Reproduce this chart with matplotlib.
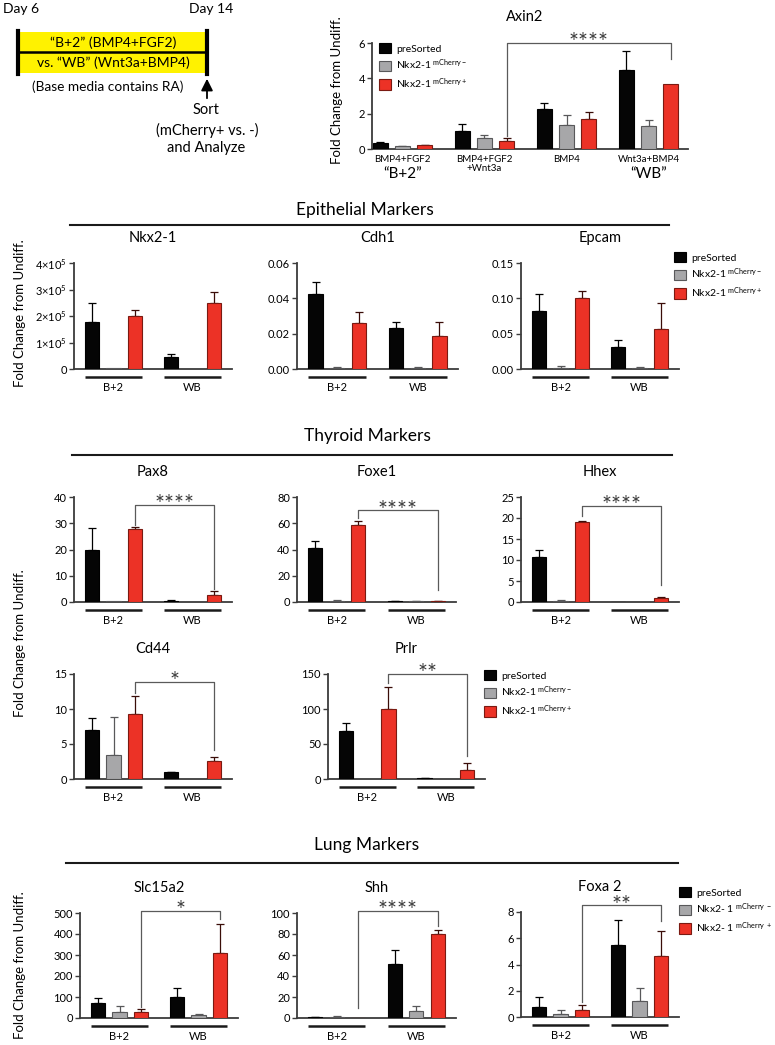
import numpy as np
import matplotlib
matplotlib.use("Agg")
import matplotlib.pyplot as plt
from matplotlib.patches import Patch, Rectangle
from matplotlib.transforms import blended_transform_factory
from matplotlib.ticker import FixedFormatter

plt.rcParams['font.family'] = ['Lato', 'DejaVu Sans']
plt.rcParams['mathtext.fontset'] = 'custom'
plt.rcParams['mathtext.rm'] = 'Lato'
plt.rcParams['mathtext.it'] = 'Lato:italic'
plt.rcParams['mathtext.bf'] = 'Lato:bold'

W, H = 775, 1045

# ---------------------------------------------------------------------------
# Data (rows: preSorted, Nkx2-1 mCherry-, Nkx2-1 mCherry+ ; cols: conditions)
# ---------------------------------------------------------------------------
axin2_groups = ["BMP4+FGF2", "BMP4+FGF2\n+Wnt3a", "BMP4", "Wnt3a+BMP4"]
axin2_mean = [[0.32, 1.02, 2.28, 4.47],
              [0.17, 0.62, 1.38, 1.28],
              [0.22, 0.48, 1.72, 3.68]]
axin2_err = [[0.06, 0.40, 0.34, 1.10],
             [0.01, 0.18, 0.52, 0.37],
             [0.02, 0.14, 0.40, 0.0]]

groups = ["B+2", "WB"]

nkx21_mean = [[1.77e5, 0.45e5], [0.02e5, 0.0], [2.0e5, 2.49e5]]
nkx21_err = [[0.72e5, 0.12e5], [0.0, 0.0], [0.22e5, 0.41e5]]
cdh1_mean = [[0.0425, 0.0232], [0.0008, 0.0008], [0.0258, 0.0187]]
cdh1_err = [[0.0065, 0.0034], [0.0003, 0.0003], [0.0067, 0.0079]]
epcam_mean = [[0.082, 0.031], [0.002, 0.002], [0.100, 0.056]]
epcam_err = [[0.024, 0.010], [0.002, 0.001], [0.010, 0.037]]

pax8_mean = [[20.0, 0.5], [0.2, 0.0], [27.7, 2.7]]
pax8_err = [[8.2, 0.2], [0.0, 0.0], [0.8, 1.6]]
foxe1_mean = [[41.0, 0.6], [1.0, 0.5], [58.5, 0.4]]
foxe1_err = [[5.5, 0.2], [0.3, 0.1], [3.0, 0.1]]
hhex_mean = [[10.8, 0.1], [0.3, 0.0], [19.1, 1.0]]
hhex_err = [[1.5, 0.0], [0.1, 0.0], [0.2, 0.1]]
cd44_mean = [[7.0, 0.95], [3.4, 0.05], [9.3, 2.55]]
cd44_err = [[1.7, 0.1], [5.5, 0.0], [2.5, 0.55]]
prlr_mean = [[68.5, 1.0], [0.0, 0.0], [100.0, 13.0]]
prlr_err = [[11.5, 0.2], [0.0, 0.0], [31.0, 10.0]]

slc15a2_mean = [[71, 100], [29, 12], [27, 310]]
slc15a2_err = [[24, 43], [28, 7], [16, 138]]
shh_mean = [[1.0, 51.0], [1.0, 6.5], [0.3, 80.0]]
shh_err = [[0.3, 14.0], [0.5, 4.5], [0.0, 4.0]]
foxa2_mean = [[0.8, 5.5], [0.25, 1.2], [0.55, 4.65]]
foxa2_err = [[0.7, 1.9], [0.3, 1.0], [0.4, 1.9]]

series = ["preSorted", r"Nkx2-1 $^{\mathrm{mCherry-}}$", r"Nkx2-1 $^{\mathrm{mCherry+}}$"]
series_lung = ["preSorted", r"Nkx2- 1 $^{\mathrm{mCherry\ -}}$", r"Nkx2- 1 $^{\mathrm{mCherry\ +}}$"]

# ---------------------------------------------------------------------------
# Style
# ---------------------------------------------------------------------------
FACE = ["#050505", "#a7a7a9", "#ec3226"]
EDGE = ["#000000", "#58585a", "#7a1a12"]
ECOL = ["#000000", "#58585a", "#3a0d08"]
OFFS = [-0.27, 0.0, 0.27]
BAR_W = 0.18
AXC = "#3c3c3c"

fig = plt.figure(figsize=(W / 100, H / 100), dpi=100)


def box(l, t, r, b):
    return [l / W, 1 - b / H, (r - l) / W, (b - t) / H]


ov = fig.add_axes([0, 0, 1, 1])
ov.set_xlim(0, W)
ov.set_ylim(H, 0)
ov.axis("off")


def bar_panel(l, t, r, b, means, errs, yticks, ylabels, title, xlim=(-0.5, 1.5),
              bracket=None, under=True):
    ax = fig.add_axes(box(l, t, r, b))
    n = len(means[0])
    x = np.arange(n)
    for i in range(3):
        m = np.array(means[i], float)
        e = np.array(errs[i], float)
        xi = x + OFFS[i]
        ax.bar(xi, m, width=BAR_W, color=FACE[i], edgecolor=EDGE[i], linewidth=0.8, zorder=3)
        k = e > 0
        if k.any():
            ax.errorbar(xi[k], m[k], yerr=[np.zeros(k.sum()), e[k]], fmt="none",
                        ecolor=ECOL[i], elinewidth=0.9, capsize=3, capthick=0.9, zorder=2)
    ax.set_xlim(*xlim)
    ax.set_ylim(0, yticks[-1])
    ax.set_yticks(yticks)
    ax.yaxis.set_major_formatter(FixedFormatter(ylabels))
    ax.set_xticks([])
    for s in ["top", "right"]:
        ax.spines[s].set_visible(False)
    for s in ["left", "bottom"]:
        ax.spines[s].set_color(AXC)
        ax.spines[s].set_linewidth(1.3)
    ax.tick_params(axis="y", length=3.5, width=1, color=AXC, labelsize=8, pad=1.5)
    ax.patch.set_alpha(0)
    hpx = b - t
    if under:
        tr = blended_transform_factory(ax.transData, ax.transAxes)
        for g, name in enumerate(groups[:n]):
            ax.plot([g - 0.36, g + 0.36], [-8 / hpx] * 2, color="#1a1a1a", lw=1.8,
                    transform=tr, clip_on=False, solid_capstyle="butt")
            ax.text(g, -13 / hpx, name, transform=tr, ha="center", va="top", fontsize=8)
    fig.text(((l + r) / 2) / W, 1 - (t - 25) / H, title, ha="center", va="center", fontsize=10.5)
    if bracket is not None:
        xl, xr, top, lb, rb, stars = bracket
        ax.plot([xl, xl, xr, xr], [lb, top, top, rb], color="#5a5a5a", lw=0.9,
                clip_on=False, zorder=4)
        ax.annotate(stars, ((xl + xr) / 2, top), xytext=(0, -7.5), textcoords="offset points",
                    ha="center", va="bottom", fontsize=17, color="#3a3a3a",
                    annotation_clip=False)
    return ax


def legend(x, y, labels):
    handles = [Patch(facecolor=FACE[i], edgecolor=EDGE[i], linewidth=0.8) for i in range(3)]
    fig.legend(handles, labels, loc="upper left", bbox_to_anchor=(x / W, 1 - y / H),
               frameon=False, fontsize=7.5, handlelength=1.15, handleheight=1.15,
               handletextpad=0.5, labelspacing=0.4, borderpad=0, borderaxespad=0)


def section(title, y_title, y_line, x0, x1):
    ov.text((x0 + x1) / 2 - 5, y_title, title, ha="center", va="center", fontsize=12.5)
    ov.plot([x0, x1], [y_line, y_line], color="#1a1a1a", lw=1.5)


def ylabel(x, y):
    fig.text(x / W, 1 - y / H, "Fold Change from Undiff.", rotation=90,
             ha="center", va="center", fontsize=9.5)


# ---------------------------------------------------------------------------
# Protocol diagram
# ---------------------------------------------------------------------------
ov.add_patch(Rectangle((18, 32), 189, 41, facecolor="#fff200", edgecolor="none"))
ov.plot([18, 207], [52, 52], color="black", lw=1.8)
ov.plot([18, 18], [31, 74], color="black", lw=3)
ov.plot([207, 207], [31, 74], color="black", lw=3)
ov.text(3, 9, "Day 6", ha="left", va="center", fontsize=10)
ov.text(233, 9, "Day 14", ha="right", va="center", fontsize=10)
ov.text(113, 43, "\u201cB+2\u201d (BMP4+FGF2)", ha="center", va="center", fontsize=10)
ov.text(113, 63, "vs. \u201cWB\u201d (Wnt3a+BMP4)", ha="center", va="center", fontsize=10)
ov.text(108, 87, "(Base media contains RA)", ha="center", va="center", fontsize=9.8)
ov.annotate("", xy=(207, 76), xytext=(207, 101),
            arrowprops=dict(arrowstyle="-|>,head_width=0.35,head_length=0.7",
                            color="black", lw=1.3))
ov.text(206, 110, "Sort", ha="center", va="center", fontsize=10.5)
ov.text(207, 130, "(mCherry+ vs. -)", ha="center", va="center", fontsize=10.5)
ov.text(206, 148, "and Analyze", ha="center", va="center", fontsize=10.5)

# ---------------------------------------------------------------------------
# Axin2
# ---------------------------------------------------------------------------
ax = bar_panel(372, 43, 688, 149, axin2_mean, axin2_err, [0, 2, 4, 6], ["0", "2", "4", "6"],
               "", xlim=(-0.37, 3.48), bracket=(1.27, 3.27, 6.0, 0.75, 5.1, "****"),
               under=False)
fig.text(525 / W, 1 - 17 / H, "Axin2", ha="center", va="center", fontsize=10.5)
ax.set_xticks(range(4))
ax.set_xticklabels(axin2_groups, fontsize=7, linespacing=1.1)
ax.tick_params(axis="x", length=0, pad=4)
tr = blended_transform_factory(ax.transData, ax.transAxes)
ax.text(0, -25 / 106, "\u201cB+2\u201d", transform=tr, ha="center", va="center", fontsize=11)
ax.text(3, -25 / 106, "\u201cWB\u201d", transform=tr, ha="center", va="center", fontsize=11)
ylabel(337, 90)
legend(379, 43, series)

# ---------------------------------------------------------------------------
# Epithelial markers
# ---------------------------------------------------------------------------
section("Epithelial Markers", 210, 225, 70, 669)
nk_labels = ["0"] + [r"$%d{\times}10^{5}$" % k for k in range(1, 5)]
bar_panel(74, 263, 232, 369, nkx21_mean, nkx21_err, [0, 1e5, 2e5, 3e5, 4e5], nk_labels, "Nkx2-1")
bar_panel(297, 263, 458, 369, cdh1_mean, cdh1_err, [0, 0.02, 0.04, 0.06],
          ["0.00", "0.02", "0.04", "0.06"], "Cdh1")
bar_panel(521, 263, 679, 369, epcam_mean, epcam_err, [0, 0.05, 0.10, 0.15],
          ["0.00", "0.05", "0.10", "0.15"], "Epcam")
ylabel(20, 313)
legend(674, 252, series)

# ---------------------------------------------------------------------------
# Thyroid markers
# ---------------------------------------------------------------------------
section("Thyroid Markers", 436, 455, 72, 672)
bar_panel(74, 497, 232, 602, pax8_mean, pax8_err, [0, 10, 20, 30, 40],
          ["0", "10", "20", "30", "40"], "Pax8", bracket=(0.27, 1.27, 37, 29.5, 4.8, "****"))
bar_panel(297, 497, 456, 602, foxe1_mean, foxe1_err, [0, 20, 40, 60, 80],
          ["0", "20", "40", "60", "80"], "Foxe1", bracket=(0.27, 1.27, 70, 64, 9, "****"))
bar_panel(521, 497, 679, 602, hhex_mean, hhex_err, [0, 5, 10, 15, 20, 25],
          ["0", "5", "10", "15", "20", "25"], "Hhex", bracket=(0.27, 1.27, 22.9, 20.5, 4, "****"))
bar_panel(74, 674, 232, 779, cd44_mean, cd44_err, [0, 5, 10, 15],
          ["0", "5", "10", "15"], "Cd44", bracket=(0.27, 1.27, 13.9, 12.3, 4.1, "*"))
bar_panel(328, 674, 485, 779, prlr_mean, prlr_err, [0, 50, 100, 150],
          ["0", "50", "100", "150"], "Prlr", bracket=(0.27, 1.27, 150, 137, 33, "**"))
ylabel(20, 643)
legend(484, 670, series)

# ---------------------------------------------------------------------------
# Lung markers
# ---------------------------------------------------------------------------
section("Lung Markers", 845, 863, 66, 678)
bar_panel(80, 913, 238, 1018, slc15a2_mean, slc15a2_err, [0, 100, 200, 300, 400, 500],
          ["0", "100", "200", "300", "400", "500"], "Slc15a2",
          bracket=(0.27, 1.27, 510, 52, 470, "*"))
bar_panel(297, 913, 456, 1018, shh_mean, shh_err, [0, 20, 40, 60, 80, 100],
          ["0", "20", "40", "60", "80", "100"], "Shh",
          bracket=(0.27, 1.27, 102, 10, 88, "****"))
bar_panel(521, 912, 679, 1017, foxa2_mean, foxa2_err, [0, 2, 4, 6, 8],
          ["0", "2", "4", "6", "8"], "Foxa 2",
          bracket=(0.27, 1.27, 8.5, 1.15, 7.3, "**"))
ylabel(20, 965)
legend(679, 887, series_lung)

fig.savefig("out.png", dpi=100)
